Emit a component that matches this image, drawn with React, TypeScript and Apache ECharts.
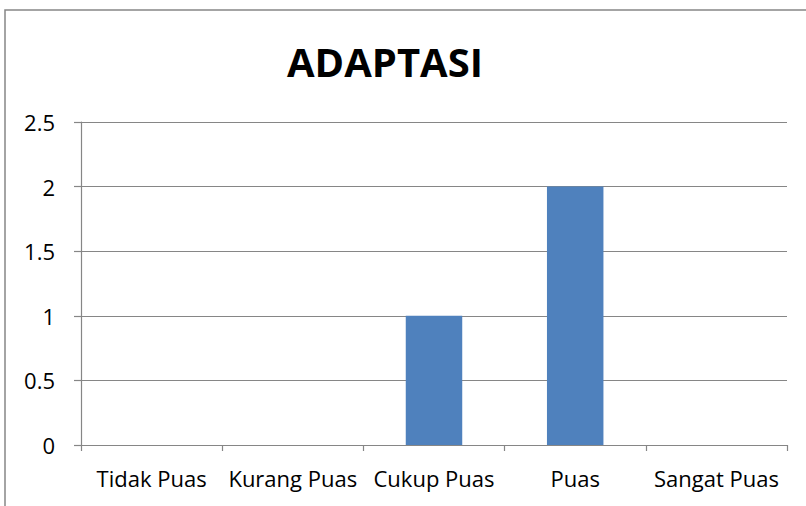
import React, { useEffect, useRef } from "react";
import * as echarts from "echarts";

const categories = ["Tidak Puas", "Kurang Puas", "Cukup Puas", "Puas", "Sangat Puas"];
const values = [0, 0, 1, 2, 0];
const chartTitle = "ADAPTASI";

export default function App() {
  const ref = useRef<HTMLDivElement>(null);
  useEffect(() => {
    if (!ref.current) return;
    const chart = echarts.init(ref.current, null, { renderer: "svg" });
    const font = "'Open Sans', 'Noto Sans', sans-serif";
    chart.setOption({
      animation: false,
      backgroundColor: "#ffffff",
      graphic: [
        {
          type: "rect",
          shape: { x: 5, y: 10, width: 900, height: 600 },
          style: { fill: "none", stroke: "#868686", lineWidth: 1.5 },
          silent: true,
        },
        {
          type: "text",
          x: 385,
          y: 61,
          style: {
            text: chartTitle,
            fontFamily: font,
            fontWeight: "bold",
            fontSize: 40,
            fill: "#000000",
            textAlign: "center",
            textVerticalAlign: "middle",
          },
        },
      ],
      grid: { left: 81, right: 19, top: 122, bottom: 61, containLabel: false },
      xAxis: {
        type: "category",
        data: categories,
        axisLine: { show: true, lineStyle: { color: "#868686", width: 1.2 } },
        axisTick: { show: true, length: 6, lineStyle: { color: "#868686", width: 1.2 } },
        axisLabel: { color: "#000000", fontSize: 22, fontFamily: font, margin: 22, interval: 0 },
        splitLine: { show: false },
      },
      yAxis: {
        type: "value",
        min: 0,
        max: 2.5,
        interval: 0.5,
        axisLine: { show: true, lineStyle: { color: "#868686", width: 1.2 } },
        axisTick: { show: true, length: 7, lineStyle: { color: "#868686", width: 1.2 } },
        axisLabel: { color: "#000000", fontSize: 22, fontFamily: font, margin: 26 },
        splitLine: { show: true, lineStyle: { color: "#868686", width: 1.2 } },
      },
      series: [
        {
          type: "bar",
          data: values,
          barWidth: "40%",
          itemStyle: { color: "#4F81BD" },
        },
      ],
    });
    return () => chart.dispose();
  }, []);
  return (
    <div
      ref={ref}
      style={{ position: "fixed", left: 0, top: 0, width: 806, height: 506 }}
    />
  );
}
